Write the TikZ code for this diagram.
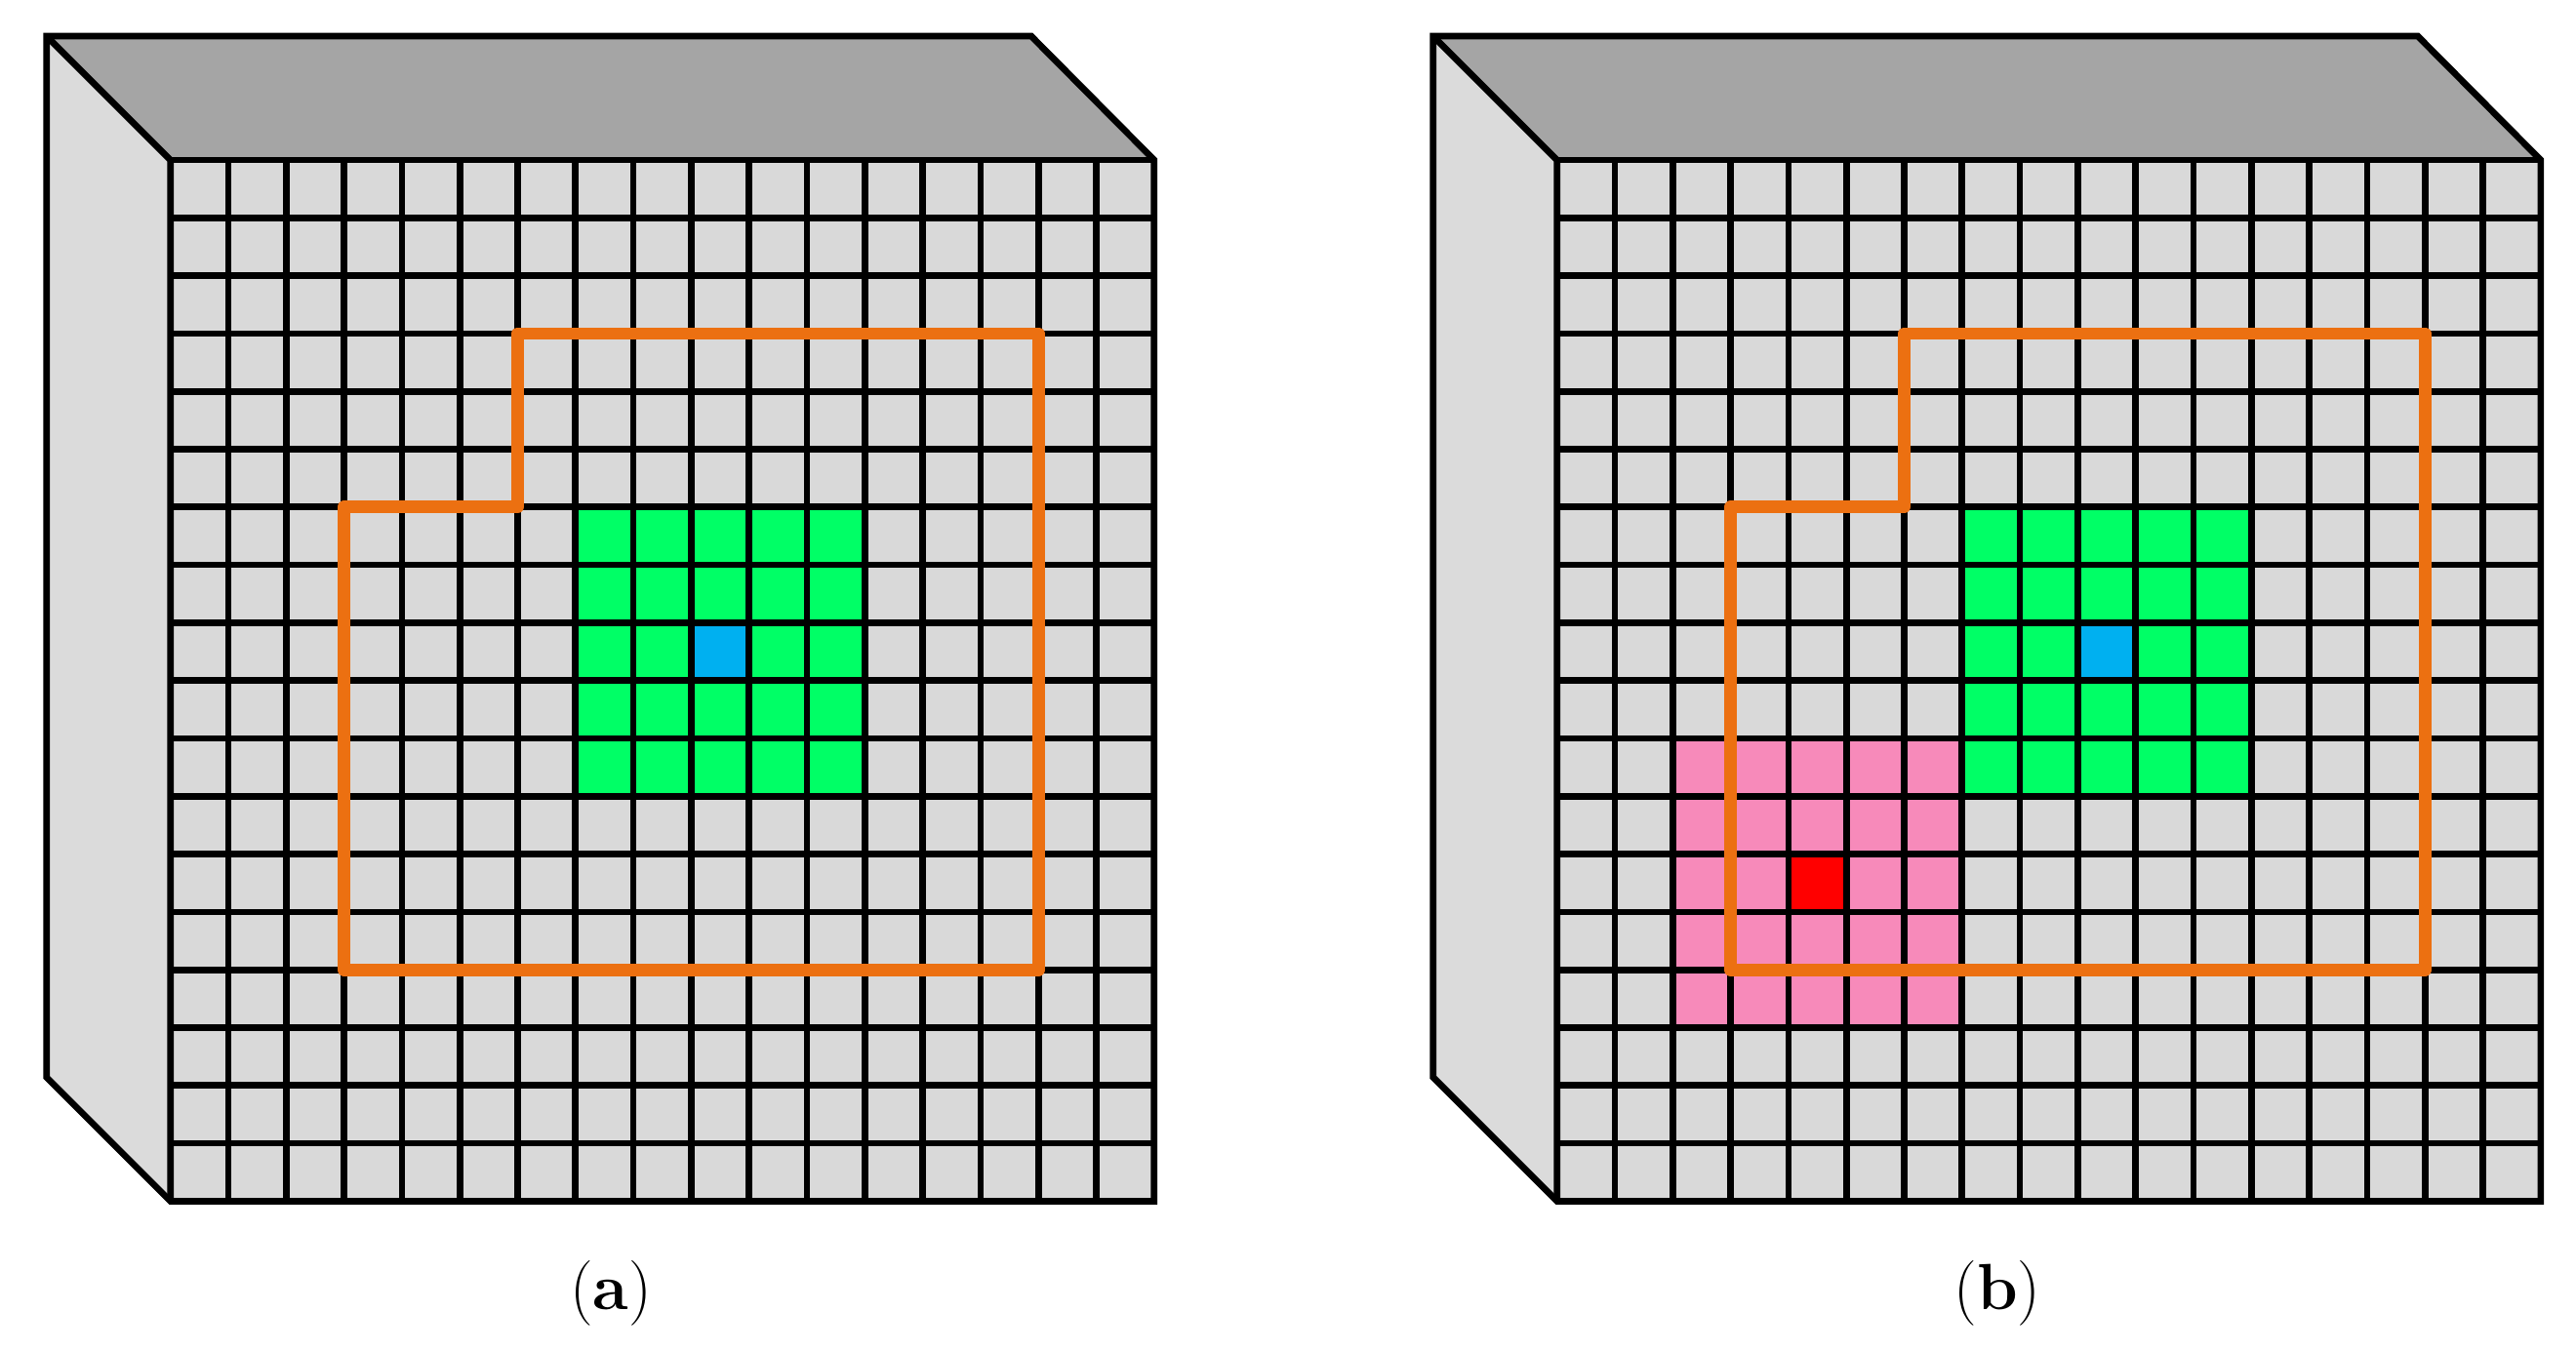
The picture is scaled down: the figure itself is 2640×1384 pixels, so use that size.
\documentclass[tikz,border=0pt]{standalone}
\definecolor{topgray}{RGB}{165,165,165}
\definecolor{cellgray}{RGB}{217,217,217}
\definecolor{sidegray}{RGB}{219,219,219}
\definecolor{cgreen}{RGB}{0,255,102}
\definecolor{cblue}{RGB}{0,176,240}
\definecolor{cpink}{RGB}{247,138,186}
\definecolor{cred}{RGB}{255,0,0}
\definecolor{corange}{RGB}{236,112,17}
\newcommand{\cellsz}{59.3}
\newcommand{\cubebase}{%
  \fill[topgray] (-127,-127) -- (17*\cellsz-126,-127) -- (17*\cellsz,0) -- (0,0) -- cycle;
  \fill[sidegray] (-127,-127) -- (0,0) -- (0,18*\cellsz) -- (-127,18*\cellsz-127) -- cycle;
  \fill[cellgray] (0,0) rectangle (17*\cellsz,18*\cellsz);
}
\newcommand{\cubelines}{%
  \foreach \i in {1,...,16} {\draw[gridline] (\i*\cellsz,0) -- (\i*\cellsz,18*\cellsz);}
  \foreach \j in {1,...,17} {\draw[gridline] (0,\j*\cellsz) -- (17*\cellsz,\j*\cellsz);}
  \draw[facebox] (-127,18*\cellsz-127) -- (-127,-127) -- (17*\cellsz-126,-127) -- (17*\cellsz,0) -- (17*\cellsz,18*\cellsz) -- (0,18*\cellsz) -- cycle;
  \draw[facebox] (-127,-127) -- (0,0) -- (0,18*\cellsz);
  \draw[facebox] (0,0) -- (17*\cellsz,0);
  \draw[orangeline] (6*\cellsz,3*\cellsz) -- (15*\cellsz,3*\cellsz) -- (15*\cellsz,14*\cellsz) -- (3*\cellsz,14*\cellsz) -- (3*\cellsz,6*\cellsz) -- (6*\cellsz,6*\cellsz) -- cycle;
}
\begin{document}
\begin{tikzpicture}[x=0.01cm,y=-0.01cm,
  facebox/.style={line width=1.9pt,line join=miter,draw=black},
  gridline/.style={line width=1.9pt,draw=black},
  orangeline/.style={line width=3.6pt,draw=corange,line join=round},
  sublabel/.style={font=\fontsize{19}{23}\selectfont,inner sep=0pt}]
\useasboundingbox (0,0) rectangle (2640,1384);
% panel (a)
\begin{scope}[shift={(174.7,164)}]
  \cubebase
  \fill[cgreen] (7*\cellsz,6*\cellsz) rectangle (12*\cellsz,11*\cellsz);
  \fill[cblue] (9*\cellsz,8*\cellsz) rectangle (10*\cellsz,9*\cellsz);
  \cubelines
\end{scope}
% panel (b)
\begin{scope}[shift={(1595.7,164)}]
  \cubebase
  \fill[cgreen] (7*\cellsz,6*\cellsz) rectangle (12*\cellsz,11*\cellsz);
  \fill[cblue] (9*\cellsz,8*\cellsz) rectangle (10*\cellsz,9*\cellsz);
  \fill[cpink] (2*\cellsz,10*\cellsz) rectangle (7*\cellsz,15*\cellsz);
  \fill[cred] (4*\cellsz,12*\cellsz) rectangle (5*\cellsz,13*\cellsz);
  \cubelines
\end{scope}
\node[sublabel] (laba) at (626,1326) {(\textbf{a})};
\node[sublabel] (labb) at (2047,1326) {(\textbf{b})};
\end{tikzpicture}
\end{document}
